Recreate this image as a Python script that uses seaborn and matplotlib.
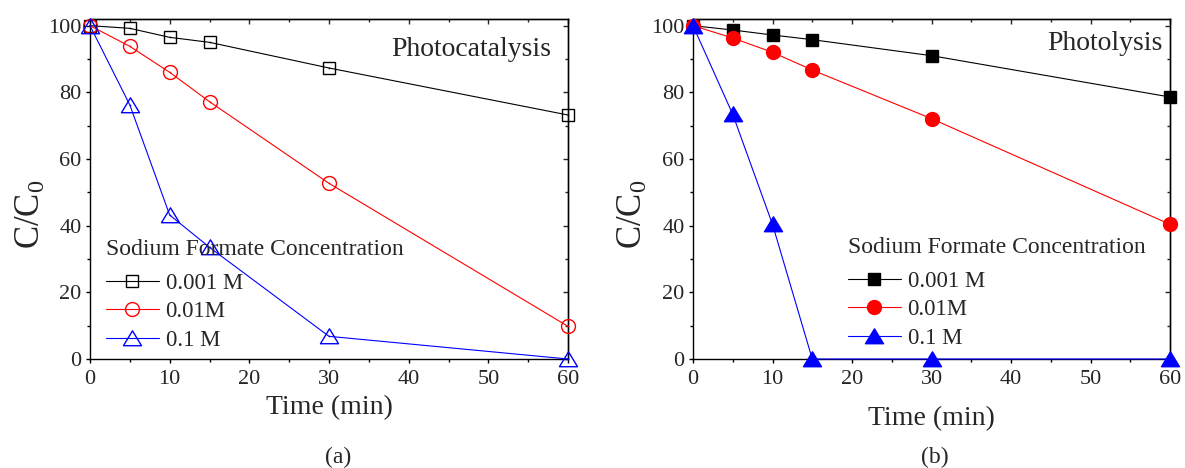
import matplotlib
matplotlib.use("Agg")
import matplotlib.pyplot as plt
from matplotlib.path import Path
import seaborn as sns
import numpy as np

# ---------------- data ----------------
time_min = [0, 5, 10, 15, 30, 60]
labels = ["0.001 M", "0.01M", "0.1 M"]
colors = ["#000000", "#FF0000", "#0000FF"]

photocat_0001 = [100, 99.2, 96.5, 95.0, 87.3, 73.2]
photocat_001 = [100, 93.8, 86.0, 77.2, 52.7, 9.8]
photocat_01 = [100, 76.2, 43.2, 33.5, 6.8, 0]

photolysis_0001 = [100, 98.7, 97.2, 95.8, 91.0, 78.6]
photolysis_001 = [100, 96.3, 92.0, 86.7, 72.1, 40.4]
photolysis_01 = [100, 73.4, 40.4, 0, 0, 0]

x_ticks = [0, 10, 20, 30, 40, 50, 60]
y_ticks = [0, 20, 40, 60, 80, 100]

# ---------------- style ----------------
sns.set_style("ticks")
plt.rcParams["font.family"] = ["Liberation Serif", "DejaVu Serif"]
plt.rcParams["mathtext.fontset"] = "custom"
plt.rcParams["mathtext.rm"] = "Liberation Serif"
plt.rcParams["mathtext.it"] = "Liberation Serif:italic"
plt.rcParams["axes.linewidth"] = 1.0

fig = plt.figure(figsize=(11.85, 4.68), dpi=100)
W, H = 1185, 468

def axes_px(left, right, top, bottom):
    return fig.add_axes([left / W, 1 - bottom / H, (right - left) / W, (bottom - top) / H])

ax_a = axes_px(90, 568, 19, 359)
ax_b = axes_px(693, 1170, 19, 359)

tri = Path([(-1, -0.8), (1, -0.8), (0, 0.85), (-1, -0.8)],
           [Path.MOVETO, Path.LINETO, Path.LINETO, Path.CLOSEPOLY])
markers = ["s", "o", tri]
msizes = [9, 10, 13]

def draw(ax, series, filled, title_text, title_xy, leg_anchor, ylab_x, xlab_pad):
    for vals, lab, col, mk, ms in zip(series, labels, colors, markers, msizes):
        sns.lineplot(x=time_min, y=vals, ax=ax, color=col, linewidth=0.8,
                     marker=mk, markersize=ms,
                     markerfacecolor=(col if filled else "none"),
                     markeredgecolor=col, markeredgewidth=1.0,
                     label=lab, clip_on=False, zorder=3)
        if not filled:
            # tiny centre dot of the open markers
            sns.scatterplot(x=time_min, y=vals, ax=ax, color=col, s=1.5,
                            linewidth=0, clip_on=False, zorder=4, legend=False)
    ax.set_xlim(0, 60)
    ax.set_ylim(0, 102)
    ax.set_xticks(x_ticks)
    ax.set_yticks(y_ticks)
    ax.set_xticks(np.arange(5, 60, 10), minor=True)
    ax.set_yticks(np.arange(10, 100, 20), minor=True)
    ax.tick_params(axis="both", which="major", direction="out", length=3,
                   width=1.0, labelsize=16, pad=3, color="black")
    ax.tick_params(axis="x", which="major", pad=5)
    ax.tick_params(axis="both", which="minor", direction="out", length=2,
                   width=1.0, color="black")
    for s in ax.spines.values():
        s.set_visible(True)
        s.set_color("black")
        s.set_linewidth(1.0)
    # inward ticks on top and right
    top = ax.secondary_xaxis("top")
    top.set_xticks(x_ticks)
    top.set_xticks(np.arange(5, 60, 10), minor=True)
    top.tick_params(which="both", direction="in", labeltop=False, width=1.0)
    top.tick_params(which="major", length=3.5)
    top.tick_params(which="minor", length=2.5)
    right = ax.secondary_yaxis("right")
    right.set_yticks(y_ticks)
    right.set_yticks(np.arange(10, 100, 20), minor=True)
    right.tick_params(which="both", direction="in", labelright=False, width=1.0)
    right.tick_params(which="major", length=3.5)
    right.tick_params(which="minor", length=2.5)

    ax.set_xlabel("Time (min)", fontsize=20, labelpad=xlab_pad)
    ax.set_ylabel("C/C$_\\mathregular{0}$", fontsize=25, va="center")
    ax.yaxis.set_label_coords(ylab_x, (359 - 214) / 340)
    ax.text(title_xy[0], title_xy[1], title_text, transform=ax.transAxes,
            ha="right", va="center", fontsize=20)
    leg = ax.legend(title="Sodium Formate Concentration", loc="upper left",
                    bbox_to_anchor=leg_anchor, frameon=False, fontsize=16.5,
                    title_fontsize=17, alignment="left", borderpad=0,
                    handlelength=2.3, handletextpad=0.3, labelspacing=0.32,
                    borderaxespad=0)
    leg._legend_box.sep = leg._legend_box.sep + 4.0
    return leg

draw(ax_a, [photocat_0001, photocat_001, photocat_01], False, "Photocatalysis",
     ((551 - 90) / 478, (359 - 49) / 340),
     ((106 - 90) / 478, (359 - 239) / 340), -0.123, 4)
draw(ax_b, [photolysis_0001, photolysis_001, photolysis_01], True, "Photolysis",
     ((1163 - 693) / 477, (359 - 44) / 340),
     ((848 - 693) / 477, (359 - 237) / 340), -0.126, 12)

fig.text(338 / W, 1 - 457 / H, "(a)", ha="center", va="center", fontsize=17)
fig.text(935 / W, 1 - 457 / H, "(b)", ha="center", va="center", fontsize=17)

fig.savefig("out.png", dpi=100)
